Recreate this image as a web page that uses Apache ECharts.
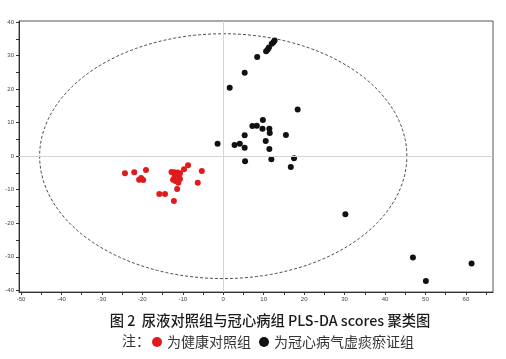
<!DOCTYPE html>
<html>
<head>
<meta charset="utf-8">
<script src="https://cdn.jsdelivr.net/npm/echarts@6/dist/echarts.min.js"></script>
<style>
html,body{margin:0;padding:0;background:#fff;}
#c{width:506px;height:359px;}
</style>
</head>
<body>
<div id="c"></div>
<script>
// ---- data ----
const xTickValues = [-50, -40, -30, -20, -10, 0, 10, 20, 30, 40, 50, 60];
const xMinorTicks = [-50, -45, -40, -35, -30, -25, -20, -15, -10, -5, 0, 5, 10, 15, 20, 25, 30, 35, 40, 45, 50, 55, 60, 65];
const yTickValues = [-40, -30, -20, -10, 0, 10, 20, 30, 40];
const yMinorTicks = [-40, -35, -30, -25, -20, -15, -10, -5, 0, 5, 10, 15, 20, 25, 30, 35, 40];

const controlName = "为健康对照组";
const controlX = [-24.3, -22.0, -19.1, -20.8, -20.3, -19.8, -15.8, -14.4, -12.8, -12.1, -11.3, -10.7, -12.4, -11.8, -11.1, -10.7, -11.4, -12.2, -9.7, -8.7, -6.3, -5.3, -12.0, -11.0];
const controlY = [-5.1, -4.8, -4.1, -7.0, -6.5, -7.1, -11.3, -11.3, -4.7, -4.8, -4.9, -5.1, -7.0, -7.4, -7.9, -6.8, -9.8, -13.4, -3.9, -2.7, -7.9, -4.4, -6.0, -5.8];

const chdName = "为冠心病气虚痰瘀证组";
const chdX = [12.7, 12.4, 12.0, 11.3, 11.0, 10.6, 8.4, 5.3, 1.6, 18.4, 9.8, 7.2, 8.3, 9.7, 11.4, 11.5, 15.5, 5.3, 10.5, -1.4, 2.8, 4.1, 5.3, 11.4, 5.4, 11.9, 17.5, 16.7, 30.2, 46.9, 50.1, 61.4];
const chdY = [34.5, 34.0, 33.5, 32.4, 31.8, 31.3, 29.6, 24.9, 20.4, 13.9, 10.8, 9.0, 9.1, 8.2, 8.2, 6.9, 6.3, 6.2, 4.5, 3.7, 3.3, 3.7, 2.5, 2.1, -1.5, -0.9, -0.6, -3.2, -17.3, -30.2, -37.2, -32.0];

// confidence ellipse (centre and semi-axes in data units)
const ellipseCentre = [0, 0];
const ellipseRadii = [45.4, 36.5];

const captionText = "图 2  尿液对照组与冠心病组 PLS-DA scores 聚类图";
const noteText = "注：";

// ---- chart ----
const zip = (a, b) => a.map((v, i) => [v, b[i]]);
const chart = echarts.init(document.getElementById('c'), null, {renderer: 'canvas'});

const tickFont = {fontSize: 6, color: '#444', fontFamily: 'Liberation Sans'};

const option = {
  animation: false,
  backgroundColor: '#fff',
  title: {
    text: captionText,
    left: 265, textAlign: 'center',
    top: 308,
    textStyle: {fontSize: 14.3, fontWeight: 500, color: '#1a1a1a', fontFamily: 'Noto Sans CJK SC'}
  },
  legend: {
    left: 147, top: 330,
    itemWidth: 10, itemHeight: 10, itemGap: 8,
    icon: 'circle',
    data: [controlName, chdName],
    textStyle: {fontSize: 14, color: '#333', fontFamily: 'Noto Sans CJK SC'}
  },
  graphic: [{
    type: 'text', left: 122, top: 334,
    style: {text: noteText, fontSize: 14, fill: '#333', fontFamily: 'Noto Sans CJK SC'}
  }],
  grid: {
    left: 19, top: 21, width: 474, height: 271,
    show: true, borderColor: '#555', borderWidth: 1, backgroundColor: 'transparent'
  },
  xAxis: {
    type: 'value', min: -50.5, max: 66.7,
    axisLine: {show: true, onZero: false, lineStyle: {color: '#333', width: 1}},
    axisTick: {show: true, customValues: xMinorTicks, length: 3, lineStyle: {color: '#333'}},
    axisLabel: {show: true, customValues: xTickValues, margin: 4, ...tickFont},
    splitLine: {show: false}
  },
  yAxis: {
    type: 'value', min: -40.5, max: 40.3,
    axisLine: {show: true, onZero: false, lineStyle: {color: '#333', width: 1}},
    axisTick: {show: true, customValues: yMinorTicks, length: 3, lineStyle: {color: '#333'}},
    axisLabel: {show: true, customValues: yTickValues, margin: 5, ...tickFont},
    splitLine: {show: false}
  },
  series: [
    {
      name: 'ellipse',
      type: 'custom',
      silent: true,
      z: 1,
      data: [[ellipseCentre[0], ellipseCentre[1], ellipseRadii[0], ellipseRadii[1]]],
      renderItem: function (params, api) {
        const cx = api.value(0), cy = api.value(1), rx = api.value(2), ry = api.value(3);
        const pts = [];
        for (let i = 0; i <= 240; i++) {
          const t = i / 240 * Math.PI * 2;
          pts.push(api.coord([cx + rx * Math.cos(t), cy + ry * Math.sin(t)]));
        }
        return {
          type: 'polyline',
          shape: {points: pts},
          style: {stroke: '#222', lineWidth: 0.8, fill: null, lineDash: [3, 2]}
        };
      },
      markLine: {
        silent: true, symbol: 'none', label: {show: false},
        lineStyle: {color: '#d4d4d4', type: 'solid', width: 1},
        data: [{xAxis: 0}, {yAxis: 0}]
      }
    },
    {
      name: controlName,
      type: 'scatter',
      z: 3,
      symbol: 'circle',
      symbolSize: 6,
      itemStyle: {color: '#e01b1b', opacity: 1},
      data: zip(controlX, controlY)
    },
    {
      name: chdName,
      type: 'scatter',
      z: 3,
      symbol: 'circle',
      symbolSize: 6,
      itemStyle: {color: '#111', opacity: 1},
      data: zip(chdX, chdY)
    }
  ]
};
chart.setOption(option);
</script>
</body>
</html>
